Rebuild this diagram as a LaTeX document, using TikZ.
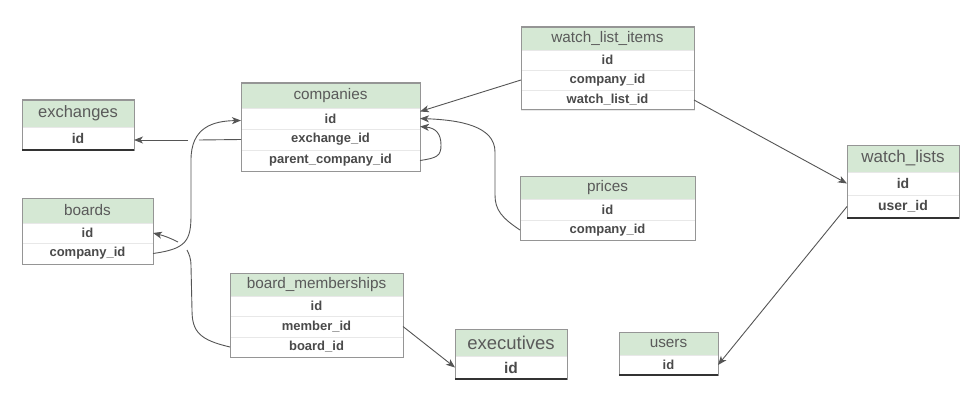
\documentclass[tikz,border=0pt]{standalone}
\usepackage{fontspec}
\setmainfont{Liberation Sans}
\usetikzlibrary{arrows.meta}
\definecolor{hdrgreen}{HTML}{D5E8D4}
\definecolor{tblgray}{HTML}{959595}
\definecolor{sepgray}{HTML}{E8E8E8}
\definecolor{hdrtext}{HTML}{5A5A5A}
\definecolor{fldtext}{HTML}{4A4A4A}
\definecolor{linegray}{HTML}{555555}
\definecolor{darkline}{HTML}{333333}
\tikzset{
  hdr/.style={draw=tblgray, fill=hdrgreen, anchor=north west, inner sep=0pt, outer sep=0pt, text=hdrtext, font=\fontsize{15.3}{18}\selectfont},
  fld/.style={draw=sepgray, fill=white, anchor=north west, inner sep=0pt, outer sep=0pt, text=fldtext, font=\fontsize{13}{15}\selectfont\bfseries},
  tbox/.style={draw=tblgray, line width=1pt},
  darkbot/.style={draw=darkline, line width=1.2pt},
  con/.style={draw=linegray, line width=0.9pt},
  arr/.style={con, -{Stealth[length=9pt,width=7pt,inset=2.5pt]}},
}
\begin{document}
\begin{tikzpicture}[x=1pt,y=-1pt]
\useasboundingbox[fill=white] (0,0) rectangle (966,409);

% exchanges
\node[hdr, minimum width=112pt, minimum height=27pt, font=\fontsize{16.5}{19}\selectfont] (ex-h) at (22,100) {exchanges};
\node[fld, minimum width=112pt, minimum height=23pt, font=\fontsize{14}{16}\selectfont\bfseries] (ex-id) at (22,127) {id};
\draw[tbox] (ex-h.north west) rectangle (ex-id.south east);
\draw[darkbot] (ex-id.south west) -- (ex-id.south east);

% boards
\node[hdr, minimum width=131pt, minimum height=25pt] (bo-h) at (22,198) {boards};
\node[fld, minimum width=131pt, minimum height=20pt] (bo-id) at (22,223) {id};
\node[fld, minimum width=131pt, minimum height=21pt] (bo-cid) at (22,243) {company\_id};
\draw[tbox] (bo-h.north west) rectangle (bo-cid.south east);

% companies
\node[hdr, minimum width=179pt, minimum height=25pt] (co-h) at (241,83) {companies};
\node[fld, minimum width=179pt, minimum height=21pt] (co-id) at (241,108) {id};
\node[fld, minimum width=179pt, minimum height=21pt] (co-ex) at (241,129) {exchange\_id};
\node[fld, minimum width=179pt, minimum height=21pt] (co-par) at (241,150) {parent\_company\_id};
\draw[tbox] (co-h.north west) rectangle (co-par.south east);

% watch_list_items
\node[hdr, minimum width=173pt, minimum height=23pt] (wi-h) at (521,27) {watch\_list\_items};
\node[fld, minimum width=173pt, minimum height=20pt] (wi-id) at (521,50) {id};
\node[fld, minimum width=173pt, minimum height=20pt] (wi-cid) at (521,70) {company\_id};
\node[fld, minimum width=173pt, minimum height=20pt] (wi-wl) at (521,90) {watch\_list\_id};
\draw[tbox] (wi-h.north west) rectangle (wi-wl.south east);

% watch_lists
\node[hdr, minimum width=112pt, minimum height=27pt, font=\fontsize{17}{20}\selectfont] (wl-h) at (847,145) {watch\_lists};
\node[fld, minimum width=112pt, minimum height=23pt, font=\fontsize{14}{16}\selectfont\bfseries] (wl-id) at (847,172) {id};
\node[fld, minimum width=112pt, minimum height=23pt, font=\fontsize{14}{16}\selectfont\bfseries] (wl-uid) at (847,195) {user\_id};
\draw[tbox] (wl-h.north west) rectangle (wl-uid.south east);
\draw[darkbot] (wl-uid.south west) -- (wl-uid.south east);

% prices
\node[hdr, minimum width=175pt, minimum height=23pt] (pr-h) at (520,176) {prices};
\node[fld, minimum width=175pt, minimum height=21pt] (pr-id) at (520,199) {id};
\node[fld, minimum width=175pt, minimum height=20pt] (pr-cid) at (520,220) {company\_id};
\draw[tbox] (pr-h.north west) rectangle (pr-cid.south east);

% board_memberships
\node[hdr, minimum width=173pt, minimum height=23pt] (bm-h) at (230,273) {board\_memberships};
\node[fld, minimum width=173pt, minimum height=20pt] (bm-id) at (230,296) {id};
\node[fld, minimum width=173pt, minimum height=21pt] (bm-mem) at (230,316) {member\_id};
\node[fld, minimum width=173pt, minimum height=20pt] (bm-bid) at (230,337) {board\_id};
\draw[tbox] (bm-h.north west) rectangle (bm-bid.south east);

% executives
\node[hdr, minimum width=112pt, minimum height=27pt, font=\fontsize{18.5}{21}\selectfont] (exe-h) at (455,329) {executives};
\node[fld, minimum width=112pt, minimum height=23pt, font=\fontsize{15.5}{18}\selectfont\bfseries] (exe-id) at (455,356) {id};
\draw[tbox] (exe-h.north west) rectangle (exe-id.south east);
\draw[darkbot] (exe-id.south west) -- (exe-id.south east);

% users
\node[hdr, minimum width=99pt, minimum height=23pt] (us-h) at (619,332) {users};
\node[fld, minimum width=99pt, minimum height=20pt] (us-id) at (619,355) {id};
\draw[tbox] (us-h.north west) rectangle (us-id.south east);
\draw[darkbot] (us-id.south west) -- (us-id.south east);

% gap coordinates
\coordinate (gapR) at (199,140);
\coordinate (gapL) at (188,140);
\coordinate (bmgapA) at (187,250);
\coordinate (bmgapB) at (178,242);

% companies.exchange_id -> exchanges.id (with line jump gap)
\draw[con] (co-ex.west) -- (gapR);
\draw[arr] (gapL) -- (gapL -| ex-id.east);

% board_memberships.board_id -> boards.id (with gap)
\draw[con] (bm-bid.west) .. controls (200,340) and (192,332) .. (192,310) -- (191,266) .. controls (191,258) and (189,254) .. (bmgapA);
\draw[arr] (bmgapB) .. controls (170,238) and (165,236) .. (bo-id.east);

% boards.company_id -> companies.id
\draw[arr] (bo-cid.east) .. controls (186,249) and (191,241) .. (191,215) -- (191,160) .. controls (191,128) and (212,121) .. ([yshift=-2pt]co-id.west);

% watch_list_items.company_id -> companies.id
\draw[arr] (wi-cid.west) -- ([yshift=7pt]co-id.east);

% prices.company_id -> companies.id
\draw[arr] (pr-cid.west) .. controls (502,218) and (495,210) .. (495,195) -- (495,152) .. controls (495,126) and (460,120) .. (co-id.east);

% companies.parent_company_id -> companies.id (self)
\draw[arr] (co-par.east) .. controls (437,158) and (441,156) .. (441,145) .. controls (441,134) and (436,128) .. ([yshift=-8pt]co-id.east);

% watch_list_items.watch_list_id -> watch_lists.id
\draw[arr] (wi-wl.east) -- (wl-id.west);

% watch_lists.user_id -> users.id
\draw[arr] (wl-uid.west) -- (us-id.east);

% board_memberships.member_id -> executives.id
\draw[arr] (bm-mem.east) -- (exe-id.west);
\end{tikzpicture}
\end{document}
